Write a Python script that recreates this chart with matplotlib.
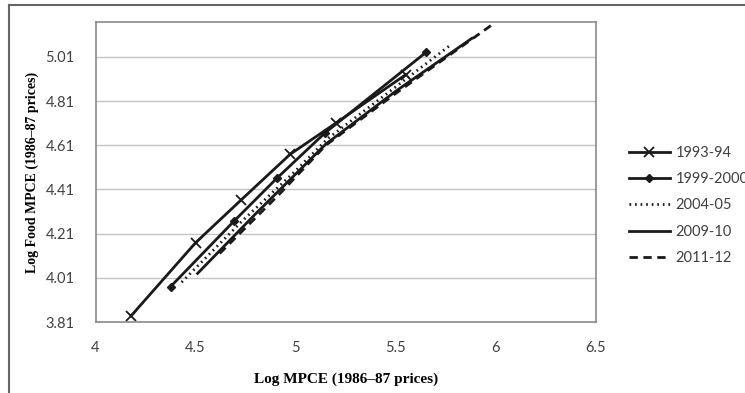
import matplotlib.pyplot as plt
from matplotlib.lines import Line2D

# --- data ---
years = ['1993-94', '1999-2000', '2004-05', '2009-10', '2011-12']

x_9394 = [4.178, 4.50, 4.728, 4.972, 5.20, 5.55]
y_9394 = [3.838, 4.169, 4.363, 4.569, 4.71, 4.93]

x_9900 = [4.375, 4.69, 4.905, 5.145, 5.65]
y_9900 = [3.97, 4.265, 4.46, 4.665, 5.03]

x_0405 = [4.43, 4.73, 5.0, 5.16, 5.45, 5.775]
y_0405 = [3.99, 4.265, 4.495, 4.64, 4.84, 5.065]

x_0910 = [4.51, 4.8, 5.15, 5.5, 5.88]
y_0910 = [4.03, 4.30, 4.615, 4.855, 5.094]

x_1112 = [4.62, 4.92, 5.15, 5.5, 5.98]
y_1112 = [4.12, 4.39, 4.61, 4.845, 5.155]

x_ticks = [4, 4.5, 5, 5.5, 6, 6.5]
x_tick_labels = ['4', '4.5', '5', '5.5', '6', '6.5']
y_ticks = [3.81, 4.01, 4.21, 4.41, 4.61, 4.81, 5.01]

# --- figure ---
fig = plt.figure(figsize=(7.45, 3.93), dpi=100)
W, H = 745, 393
ax = fig.add_axes([95.5 / W, (H - 322) / H, (596 - 95.5) / W, 300 / H])

lc = '#1a1a1a'
ax.plot(x_9394, y_9394, color=lc, lw=2, marker='x', ms=7, mew=1.3, label=years[0])
ax.plot(x_9900, y_9900, color=lc, lw=2, marker='D', ms=4.5, label=years[1])
ax.plot(x_0405, y_0405, color=lc, lw=2, linestyle=(0, (0.6, 1.4)), label=years[2])
ax.plot(x_0910, y_0910, color=lc, lw=2, label=years[3])
ax.plot(x_1112, y_1112, color=lc, lw=2, linestyle=(0, (3, 2)), label=years[4])

ax.set_xlim(4, 6.5)
ax.set_ylim(3.81, 5.168)
ax.set_xticks(x_ticks)
ax.set_xticklabels(x_tick_labels)
ax.set_yticks(y_ticks)
ax.set_yticklabels(['%.2f' % v for v in y_ticks])
ax.tick_params(length=0, labelsize=10.5, labelcolor='#404040', pad=14)
ax.tick_params(axis='y', pad=15)
for lab in ax.get_xticklabels() + ax.get_yticklabels():
    lab.set_fontfamily('Lato')

ax.grid(axis='y', color='#c4c4c4', lw=1)
ax.set_axisbelow(True)
for s in ax.spines.values():
    s.set_color('#8a8a8a')
    s.set_linewidth(1.2)

serif = dict(family='Liberation Serif', weight='bold', size=11)
ax.set_xlabel('Log MPCE (1986–87 prices)', fontdict=serif, labelpad=12)
ax.set_ylabel('Log Food MPCE (1986–87 prices)', fontdict=dict(serif, size=10), labelpad=5)

leg = fig.legend(loc='center left', bbox_to_anchor=(629 / W, (H - 205.5) / H),
                 frameon=False, handlelength=2.8, handletextpad=0.4,
                 labelspacing=0.85, borderpad=0, borderaxespad=0,
                 prop={'family': 'Lato', 'size': 10.5})
for t in leg.get_texts():
    t.set_color('#404040')

# outer frame of the original image (cropped at right and bottom)
fig.add_artist(Line2D([9 / W, 1], [(H - 5) / H, (H - 5) / H], color='#666666', lw=1.5))
fig.add_artist(Line2D([9 / W, 9 / W], [0, (H - 5) / H], color='#666666', lw=1.5))

plt.savefig('out.png', dpi=100)
